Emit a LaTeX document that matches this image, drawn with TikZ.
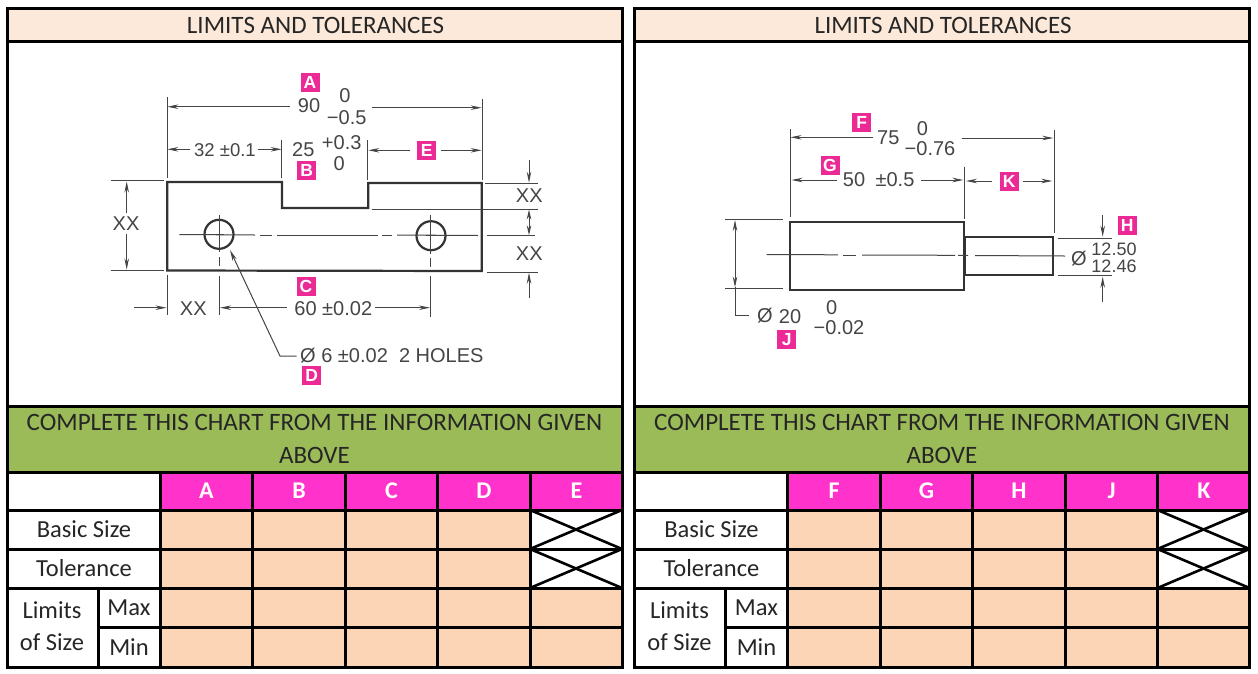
\documentclass[tikz,border=0pt]{standalone}
\usepackage{fontspec}
\setmainfont{Carlito}
\newfontfamily\drawfont{Liberation Sans}
\usetikzlibrary{arrows.meta}
\definecolor{hdrpeach}{HTML}{FDE9D9}
\definecolor{cellpeach}{HTML}{FBD5B5}
\definecolor{chartgreen}{HTML}{9BBB59}
\definecolor{chartpink}{HTML}{FF33CC}
\definecolor{tagpink}{HTML}{EC2A96}
\definecolor{inkgrey}{HTML}{454545}
\newcommand{\pxfont}[1]{\fontsize{#1}{#1}\selectfont}
\tikzset{
  x=1pt,y=-1pt,
  gridline/.style={line width=3pt,black},
  thinx/.style={line width=2.6pt,black},
  tablelabel/.style={font=\pxfont{24.5},text=black!85,inner sep=0pt,anchor=center},
  headlabel/.style={font=\bfseries\pxfont{24},text=white,inner sep=0pt,anchor=center},
  tag/.style={fill=tagpink,text=white,font=\drawfont\bfseries\pxfont{17.5},minimum size=19pt,inner sep=0pt,anchor=center},
  dimtext/.style={font=\drawfont\pxfont{20},text=inkgrey,inner sep=0pt,anchor=center},
  partline/.style={line width=2.2pt,draw=black!80},
  thinline/.style={line width=1pt,draw=inkgrey},
  dimline/.style={thinline,-{Stealth[length=11pt,width=4.5pt]}},
  dimboth/.style={thinline,{Stealth[length=10pt,width=4.5pt]}-{Stealth[length=10pt,width=4.5pt]}},
}
% #1 prefix, #2-#6 column letters
\newcommand{\panelframe}[6]{%
  \fill[hdrpeach] (7,8) rectangle (622,41);
  \fill[white] (7,41) rectangle (622,406);
  \fill[chartgreen] (7,406) rectangle (622,472);
  \fill[white] (7,472) rectangle (622,667);
  \fill[chartpink] (160,472) rectangle (622,510);
  \fill[cellpeach] (160,510) rectangle (530,588);
  \fill[cellpeach] (160,588) rectangle (622,666);
  \foreach \gx in {160,252.5,345,437.5,530}{\draw[gridline] (\gx,472) -- (\gx,666);}
  \draw[gridline] (98,588) -- (98,666);
  \draw[gridline] (7,41) -- (622,41);
  \draw[gridline] (7,406) -- (622,406);
  \draw[gridline] (7,472) -- (622,472);
  \draw[gridline] (7,510) -- (622,510);
  \draw[gridline] (7,549) -- (622,549);
  \draw[gridline] (7,588) -- (622,588);
  \draw[gridline] (98,627) -- (622,627);
  \draw[thinx] (530,510) -- (622,549);
  \draw[thinx] (530,549) -- (622,510);
  \draw[thinx] (530,549) -- (622,588);
  \draw[thinx] (530,588) -- (622,549);
  \draw[gridline] (7,8) rectangle (622,667);
  \node[tablelabel,font=\pxfont{25}] (#1title) at (315.5,25) {LIMITS AND TOLERANCES};
  \node[tablelabel,font=\pxfont{25}] (#1chartA) at (314.5,422) {COMPLETE THIS CHART FROM THE INFORMATION GIVEN};
  \node[tablelabel,font=\pxfont{25}] (#1chartB) at (314.5,455) {ABOVE};
  \node[headlabel] (#1colA) at (206.5,491) {#2};
  \node[headlabel] (#1colB) at (299,491) {#3};
  \node[headlabel] (#1colC) at (391.5,491) {#4};
  \node[headlabel] (#1colD) at (484,491) {#5};
  \node[headlabel] (#1colE) at (576.5,491) {#6};
  \node[tablelabel] (#1basic) at (84,529) {Basic Size};
  \node[tablelabel] (#1tol) at (84,568) {Tolerance};
  \node[tablelabel] (#1limits) at (52,610) {Limits};
  \node[tablelabel] (#1ofsize) at (52,642) {of Size};
  \node[tablelabel] (#1max) at (129,608) {Max};
  \node[tablelabel] (#1min) at (129,647) {Min};
}
\begin{document}
\begin{tikzpicture}
\useasboundingbox (0,0) rectangle (1258,673);
\fill[white] (0,0) rectangle (1258,673);
\begin{scope}
  \panelframe{l}{A}{B}{C}{D}{E}
\end{scope}
\begin{scope}[xshift=627.5pt]
  \panelframe{r}{F}{G}{H}{J}{K}
\end{scope}

% ---------- left part
\draw[partline,line join=miter] (167.3,182) -- (282,182) -- (282,208) -- (368.3,208) -- (368.3,183) -- (481.7,183) -- (481.7,271) -- (167.3,270.5) -- cycle;
\draw[partline] (219,234.3) circle (14.5);
\draw[partline] (431,235.7) circle (14.5);
% centre lines
\draw[thinline] (179.3,234.5) -- (255,235);
\draw[thinline] (260,235) -- (272,235);
\draw[thinline] (277,235) -- (378,235);
\draw[thinline] (382,235) -- (392,235);
\draw[thinline] (397,235) -- (478,235.5);
\draw[thinline] (486.7,235.7) -- (535,235.7);
\foreach \cx/\ya/\yb in {219/215/252,219/257/266,219/276/315,430.7/215/254,430.7/258/267,430.7/276/316.7}{\draw[thinline] (\cx,\ya) -- (\cx,\yb);}
\draw[thinline] (214,234.3) -- (224,234.3);
\draw[thinline] (426,235.7) -- (436,235.7);
% top dimensions
\draw[thinline] (167.3,97.3) -- (167.3,178);
\draw[thinline] (482.3,99.3) -- (482.3,180);
\draw[thinline] (281.7,140) -- (281.7,178);
\draw[thinline] (367.7,140) -- (367.7,180);
\draw[dimline] (290,106.7) -- (167.3,106.7);
\draw[dimline] (371.7,107.7) -- (481.7,107.7);
\draw[dimline] (190,149.3) -- (167.3,149.3);
\draw[dimline] (258.3,149.3) -- (281.7,149.3);
\draw[dimline] (410,150.3) -- (368.3,150.3);
\draw[dimline] (440.7,150.3) -- (481.7,150.3);
\node[tag] (tagA) at (310,82.7) {A};
\node[dimtext] (t90) at (309,105.7) {90};
\node[dimtext] (t90a) at (345,95.7) {0};
\node[dimtext] (t90b) at (346.7,117.3) {−0.5};
\node[dimtext,font=\drawfont\pxfont{18.5}] (t32) at (225,150) {32 ±0.1};
\node[dimtext] (t25) at (303.3,150) {25};
\node[dimtext] (t25a) at (341.7,142.3) {+0.3};
\node[dimtext] (t25b) at (339.3,163.3) {0};
\node[tag] (tagB) at (306.7,170) {B};
\node[tag] (tagE) at (426.7,150.7) {E};
% left dimensions
\draw[thinline] (110.7,180.7) -- (164,180.7);
\draw[thinline] (110.7,270) -- (164,270);
\draw[dimline] (126.7,213) -- (126.7,181.5);
\draw[dimline] (126.7,234) -- (126.7,269.5);
\node[dimtext] (xxleft) at (126,224) {XX};
% right dimensions
\draw[thinline] (485,183.3) -- (538.3,183.3);
\draw[thinline] (371.7,209) -- (538.3,209);
\draw[thinline] (486.7,272) -- (538.3,272);
\draw[dimline] (529,160) -- (529,182.7);
\draw[dimboth] (529,209.5) -- (529,235.3);
\draw[dimline] (529,298.3) -- (529,272.7);
\node[dimtext] (xxr1) at (529.3,195.5) {XX};
\node[dimtext] (xxr2) at (529.3,254) {XX};
% bottom dimensions
\draw[thinline] (167.3,275) -- (167.3,315);
\draw[dimline] (134.3,307.7) -- (166.5,307.7);
\draw[dimline] (286.7,307.7) -- (220,307.7);
\draw[dimline] (375,307.7) -- (430,307.7);
\node[dimtext] (xxb) at (193.3,308.3) {XX};
\node[dimtext] (t60) at (333.3,308.3) {60 ±0.02};
\node[tag] (tagC) at (306,286.7) {C};
% leader
\draw[thinline,{Stealth[length=11pt,width=4.5pt]}-] (230,250) -- (280,356) -- (296.7,356);
\node[dimtext,anchor=west] (holes) at (300,356) {Ø 6 ±0.02\ \ 2 HOLES};
\node[tag] (tagD) at (311.7,375.7) {D};

% ---------- right part
\draw[partline] (790,221.7) rectangle (964,290);
\draw[partline] (964.5,237.3) rectangle (1053,274.7);
\draw[thinline] (766.7,254.5) -- (838,254.8);
\draw[thinline] (843,255) -- (856,255);
\draw[thinline] (862,255) -- (955,255.3);
\draw[thinline] (958,255.3) -- (968,255.5);
\draw[thinline] (975,255.5) -- (1065,256);
\draw[thinline] (790,129.3) -- (790,217.3);
\draw[thinline] (1054,130) -- (1054,233.3);
\draw[thinline] (964.3,166.7) -- (964.3,219);
\draw[dimline] (873.3,137.3) -- (790.5,137.3);
\draw[dimline] (961.7,138) -- (1053.3,138);
\draw[dimline] (836.7,180) -- (791.5,180);
\draw[dimline] (920.7,180) -- (963.3,180);
\draw[dimline] (991.7,181) -- (966,181);
\draw[dimline] (1023.3,181) -- (1052.3,181);
\node[tag] (tagF) at (861.7,122.7) {F};
\node[dimtext] (t75) at (888.3,137.3) {75};
\node[dimtext] (t75a) at (922.3,128.3) {0};
\node[dimtext] (t75b) at (930,149) {−0.76};
\node[tag] (tagG) at (830,165) {G};
\node[dimtext] (t50) at (854,180) {50};
\node[dimtext] (t50a) at (895,180) {±0.5};
\node[tag] (tagK) at (1009.3,181) {K};
\draw[thinline] (725,219.3) -- (783.3,219.3);
\draw[thinline] (725,288.3) -- (783.3,288.3);
\draw[dimline] (735,250) -- (735,220);
\draw[dimline] (735,250) -- (735,287.5);
\draw[thinline] (735,287) -- (735,315) -- (749.3,315);
\node[dimtext] (dia20) at (765,316) {Ø};
\node[dimtext] (t20) at (790,316.7) {20};
\node[dimtext] (t20a) at (831.7,307.3) {0};
\node[dimtext] (t20b) at (839,327.7) {−0.02};
\node[tag] (tagJ) at (786.7,339.3) {J};
\node[tag] (tagH) at (1127.3,225.7) {H};
\draw[thinline] (1058.3,238) -- (1112.3,238);
\draw[thinline] (1058.3,275.7) -- (1112.3,275.7);
\draw[dimline] (1102.7,215) -- (1102.7,236.7);
\draw[dimline] (1102.7,301.7) -- (1102.7,276.7);
\node[dimtext] (diaH) at (1079,258.3) {Ø};
\node[dimtext,font=\drawfont\pxfont{18}] (t250) at (1114,249) {12.50};
\node[dimtext,font=\drawfont\pxfont{18}] (t246) at (1114,266.7) {12.46};
\end{tikzpicture}
\end{document}
